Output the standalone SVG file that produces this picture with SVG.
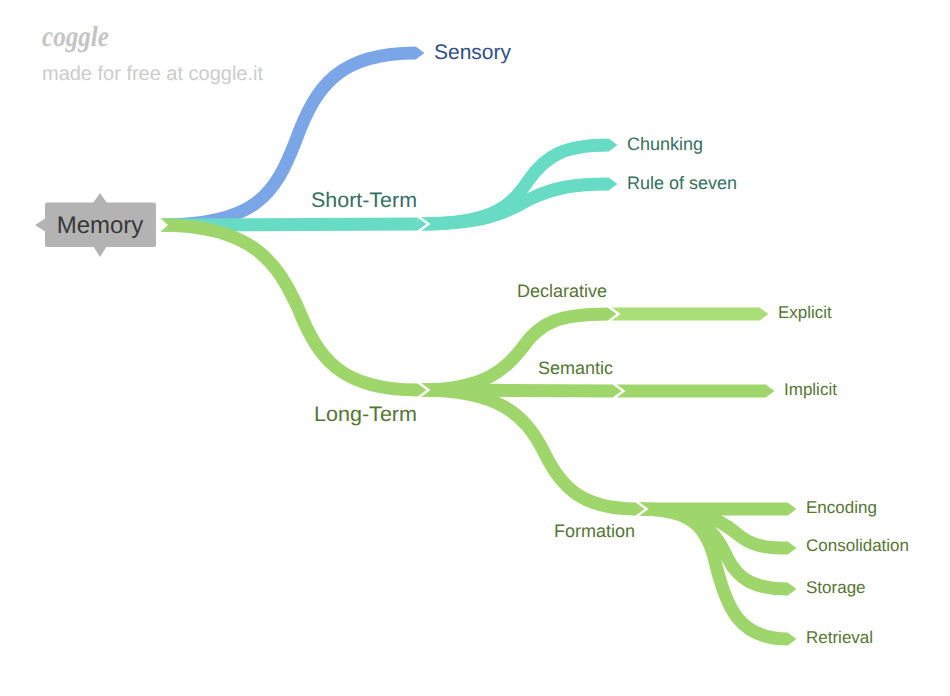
<svg xmlns="http://www.w3.org/2000/svg" width="950" height="696" viewBox="0 0 950 696">
<style>
text{font-family:"Liberation Sans",Arial,sans-serif;text-rendering:geometricPrecision}
.b{fill:none;stroke-width:13;stroke-linecap:butt}
.blue{stroke:#7aa5e6}.teal{stroke:#68dbc4}.green{stroke:#9fd66b}.lime{stroke:#aade78}
.tb{fill:#2f4f88}.tt{fill:#356f62}.tg{fill:#567535}
.s21{font-size:21px}.s18{font-size:18px}.s17{font-size:17px}
</style>
<defs>
<marker id="tipBlue" markerUnits="userSpaceOnUse" markerWidth="12" markerHeight="14" refX="0.5" refY="7" orient="auto"><polygon points="0,0.5 9,7 0,13.5" fill="#7aa5e6"/></marker>
<marker id="tipTeal" markerUnits="userSpaceOnUse" markerWidth="12" markerHeight="14" refX="0.5" refY="7" orient="auto"><polygon points="0,0.5 9,7 0,13.5" fill="#68dbc4"/></marker>
<marker id="tipGreen" markerUnits="userSpaceOnUse" markerWidth="12" markerHeight="14" refX="0.5" refY="7" orient="auto"><polygon points="0,0.5 9,7 0,13.5" fill="#9fd66b"/></marker>
<marker id="tipLime" markerUnits="userSpaceOnUse" markerWidth="12" markerHeight="14" refX="0.5" refY="7" orient="auto"><polygon points="0,0.5 9,7 0,13.5" fill="#aade78"/></marker>
<marker id="jointTeal" markerUnits="userSpaceOnUse" markerWidth="16" markerHeight="20" refX="0.5" refY="10" orient="auto"><polygon points="0,0.5 13,10 0,19.5" fill="#fff"/><polygon points="0,3.5 9,10 0,16.5" fill="#68dbc4"/></marker>
<marker id="jointGreen" markerUnits="userSpaceOnUse" markerWidth="16" markerHeight="20" refX="0.5" refY="10" orient="auto"><polygon points="0,0.5 13,10 0,19.5" fill="#fff"/><polygon points="0,3.5 9,10 0,16.5" fill="#9fd66b"/></marker>
</defs>
<g id="watermark">
<text x="42" y="46" font-size="29" font-style="italic" font-weight="700" fill="#c4c4c4" textLength="67" lengthAdjust="spacingAndGlyphs" style="font-family:'Liberation Serif',serif">coggle</text>
<text x="42" y="80" font-size="20" fill="#cccccc" textLength="221" lengthAdjust="spacingAndGlyphs">made for free at coggle.it</text>
</g>
<g id="connectors">
<path class="b blue" marker-end="url(#tipBlue)" d="M160,225C255,225 275,195 296,140C316,85 340,53 416,53"/>
<path class="b teal" marker-end="url(#tipTeal)" d="M420,224C490,224 510,208 528,181C546,155 565,145 609,145"/>
<path class="b teal" marker-end="url(#tipTeal)" d="M420,224C480,224 505,214 530,199C555,187 575,184 609,184"/>
<path class="b teal" marker-end="url(#jointTeal)" d="M160,225L418,224"/>
<path class="b lime" marker-end="url(#tipLime)" d="M610,314L760,314"/>
<path class="b green" marker-end="url(#jointGreen)" d="M420,390C490,390 508,365 523,347C540,322 560,314 608,314"/>
<path class="b green" marker-end="url(#tipGreen)" d="M617,391L766,391"/>
<path class="b green" marker-end="url(#jointGreen)" d="M420,390C490,390 530,391 613,391"/>
<path class="b green" marker-end="url(#tipGreen)" d="M638,509L788,509"/>
<path class="b green" marker-end="url(#tipGreen)" d="M638,509C700,509 718,518 736,533C750,545 762,548 788,548"/>
<path class="b green" marker-end="url(#tipGreen)" d="M638,509C695,509 714,528 727,557C738,580 755,589 788,589"/>
<path class="b green" marker-end="url(#tipGreen)" d="M638,509C690,509 705,525 714,557C726,610 740,639 788,639"/>
<path class="b green" marker-end="url(#jointGreen)" d="M420,390C500,390 525,415 544,452C562,490 585,509 636,509"/>
<path class="b green" marker-end="url(#jointGreen)" d="M160,225C255,225 278,265 298,308C318,358 340,390 418,390"/>
<polygon points="158,216 168,225 158,234" fill="#fff"/>
</g>
<g id="node-memory">
<polygon points="35,225 46,218 46,232" fill="#b3b3b3"/>
<polygon points="93,203 100,193 107,203" fill="#b3b3b3"/>
<polygon points="93,246 100,257 107,246" fill="#b3b3b3"/>
<rect x="45" y="202.500" width="111" height="44.500" rx="2" fill="#b3b3b3"/>
<text x="100" y="233" font-size="24" text-anchor="middle" fill="#383838">Memory</text>
</g>
<g id="node-sensory"><text class="tb s21" x="434" y="59">Sensory</text></g>
<g id="node-short-term"><text class="tt s21" x="311" y="207" textLength="106" lengthAdjust="spacingAndGlyphs">Short-Term</text></g>
<g id="node-chunking"><text class="tt s18" x="627" y="150">Chunking</text></g>
<g id="node-rule"><text class="tt s18" x="627" y="189">Rule of seven</text></g>
<g id="node-long-term"><text class="tg s21" x="314" y="421" textLength="103" lengthAdjust="spacingAndGlyphs">Long-Term</text></g>
<g id="node-declarative"><text class="tg s18" x="517" y="297">Declarative</text></g>
<g id="node-explicit"><text class="tg s17" x="778" y="318">Explicit</text></g>
<g id="node-semantic"><text class="tg s18" x="538" y="374">Semantic</text></g>
<g id="node-implicit"><text class="tg s17" x="784" y="395">Implicit</text></g>
<g id="node-formation"><text class="tg s18" x="554" y="537">Formation</text></g>
<g id="node-encoding"><text class="tg s17" x="806" y="513">Encoding</text></g>
<g id="node-consolidation"><text class="tg s17" x="806" y="551">Consolidation</text></g>
<g id="node-storage"><text class="tg s17" x="806" y="593">Storage</text></g>
<g id="node-retrieval"><text class="tg s17" x="806" y="643">Retrieval</text></g>
</svg>
